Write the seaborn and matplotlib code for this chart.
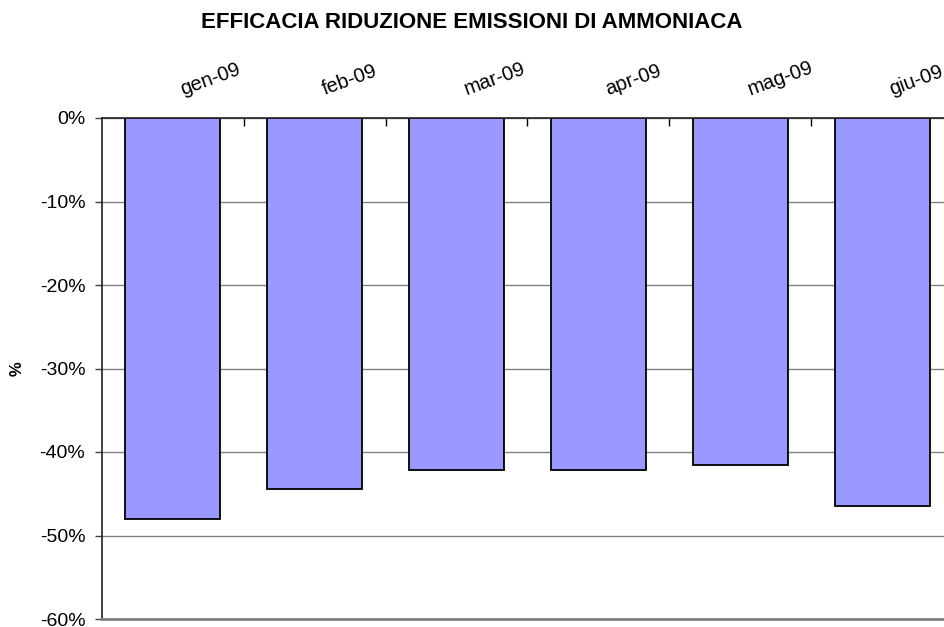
import numpy as np
import pandas as pd
import matplotlib
matplotlib.use('Agg')
import matplotlib.pyplot as plt
import matplotlib.transforms as mtransforms
from matplotlib.ticker import FuncFormatter
import seaborn as sns

months = ['gen-09', 'feb-09', 'mar-09', 'apr-09', 'mag-09', 'giu-09']
riduzione = [-48.0, -44.4, -42.2, -42.2, -41.6, -46.5]

df = pd.DataFrame({'mese': months, 'riduzione': riduzione})

sns.set_style('white')
plt.rcParams['font.family'] = ['Liberation Sans', 'DejaVu Sans']
plt.rcParams['text.color'] = 'black'
plt.rcParams['xtick.labelcolor'] = 'black'
plt.rcParams['ytick.labelcolor'] = 'black'

fig = plt.figure(figsize=(9.44, 6.27), dpi=100)
ax = fig.add_axes([102 / 944, 8 / 627, 851 / 944, 501 / 627])

sns.barplot(data=df, x='mese', y='riduzione', color='#9999ff', saturation=1,
            width=0.67, edgecolor='black', linewidth=1.3, ax=ax)

ax.set_xlim(-0.5, 5.5)
ax.set_ylim(-60, 0)
ax.set_yticks(np.arange(-60, 1, 10))
ax.yaxis.set_major_formatter(FuncFormatter(lambda v, p: '%d%%' % v))
ax.grid(axis='y', color='#808080', linewidth=1)
ax.set_axisbelow(True)

# x labels sit on top, rotated like the excel original
ax.xaxis.tick_top()
ax.set_xticks(range(len(months)))
ax.set_xticklabels(months, rotation=20, ha='left', va='bottom',
                   rotation_mode='anchor', fontsize=14.5)
ax.tick_params(axis='x', which='major', length=0, pad=14)
shift = mtransforms.ScaledTranslation(8 / 72, 0, fig.dpi_scale_trans)
for lab in ax.get_xticklabels():
    lab.set_transform(lab.get_transform() + shift)
ax.set_xticks(np.arange(0.5, 5.5, 1), minor=True)
ax.tick_params(axis='x', which='minor', direction='in', length=6, width=1,
               color='black', top=True, bottom=False)

ax.tick_params(axis='y', direction='out', length=5, width=1, color='#404040',
               labelsize=14, pad=7, left=True)
ax.set_xlabel('')
ax.set_ylabel('')

for s in ['top', 'left']:
    ax.spines[s].set_color('#222222')
    ax.spines[s].set_linewidth(1.2)
ax.spines['bottom'].set_color('#808080')
ax.spines['bottom'].set_linewidth(2)
ax.spines['right'].set_visible(False)

fig.text(472 / 944, 1 - 22 / 627, 'EFFICACIA RIDUZIONE EMISSIONI DI AMMONIACA',
         ha='center', va='center', fontsize=16, fontweight='bold')
fig.text(17 / 944, 1 - 369 / 627, '%', rotation=90, ha='center', va='center',
         fontsize=12, fontweight='bold')

fig.savefig('out.png', dpi=100)
